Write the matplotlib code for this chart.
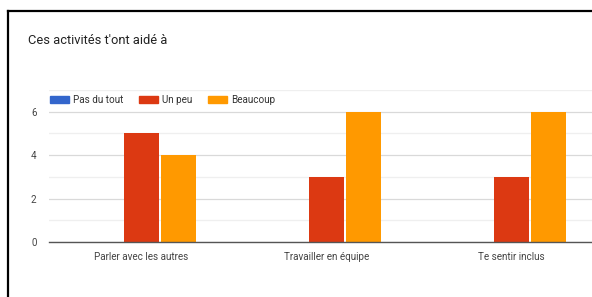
import numpy as np
import matplotlib.pyplot as plt
from matplotlib.lines import Line2D
from matplotlib.patches import Patch

plt.rcParams['font.family'] = ['Roboto', 'DejaVu Sans']

categories = ['Parler avec les autres', 'Travailler en équipe', 'Te sentir inclus']
series_names = ['Pas du tout', 'Un peu', 'Beaucoup']
pas_du_tout = [0, 0, 0]
un_peu = [5, 3, 3]
beaucoup = [4, 6, 6]
colors = ['#3366CC', '#DC3912', '#FF9900']

fig = plt.figure(figsize=(5.92, 2.97), dpi=100)
ax = fig.add_axes([49 / 592, 55 / 297, 555 / 592, 152 / 297])

x = np.arange(len(categories))
w = 0.2
for i, vals in enumerate([pas_du_tout, un_peu, beaucoup]):
    ax.bar(x + (i - 1) * w, vals, width=w * 0.97, color=colors[i], zorder=3)

ax.set_xlim(-0.5, 2.5)
ax.set_ylim(0, 7)
ax.set_yticks([0, 2, 4, 6])
ax.set_yticks([1, 3, 5, 7], minor=True)
ax.set_xticks(x)
ax.set_xticklabels(categories)
ax.grid(axis='y', which='major', color='#d9d9d9', linewidth=0.9, zorder=0)
ax.grid(axis='y', which='minor', color='#efefef', linewidth=0.9, zorder=0)
for s in ['top', 'right', 'left']:
    ax.spines[s].set_visible(False)
ax.spines['bottom'].set_color('#555555')
ax.spines['bottom'].set_linewidth(1.0)
ax.spines['bottom'].set_zorder(4)
ax.tick_params(axis='both', which='both', length=0, labelsize=7.1, colors='#444444')
ax.tick_params(axis='y', pad=9)
ax.tick_params(axis='x', pad=7)

handles = [Patch(color=c) for c in colors]
ax.legend(handles, series_names, loc='center left', bbox_to_anchor=(0.001, 0.934),
          ncol=3, frameon=False, fontsize=7.1, handlelength=1.95, handleheight=0.7,
          handletextpad=0.4, columnspacing=1.6, borderaxespad=0, borderpad=0,
          labelcolor='#333333')

fig.text(28 / 592, 1 - 40 / 297, "Ces activités t'ont aidé à", fontsize=9.3,
         color='#222222', va='center', ha='left')

# screenshot frame
fig.add_artist(Line2D([8 / 592, 8 / 592], [0, 1 - 10.5 / 297], transform=fig.transFigure,
                      color='black', linewidth=1.6))
fig.add_artist(Line2D([8 / 592, 1], [1 - 10.5 / 297, 1 - 10.5 / 297], transform=fig.transFigure,
                      color='black', linewidth=1.6))

fig.savefig('out.png', dpi=100)
